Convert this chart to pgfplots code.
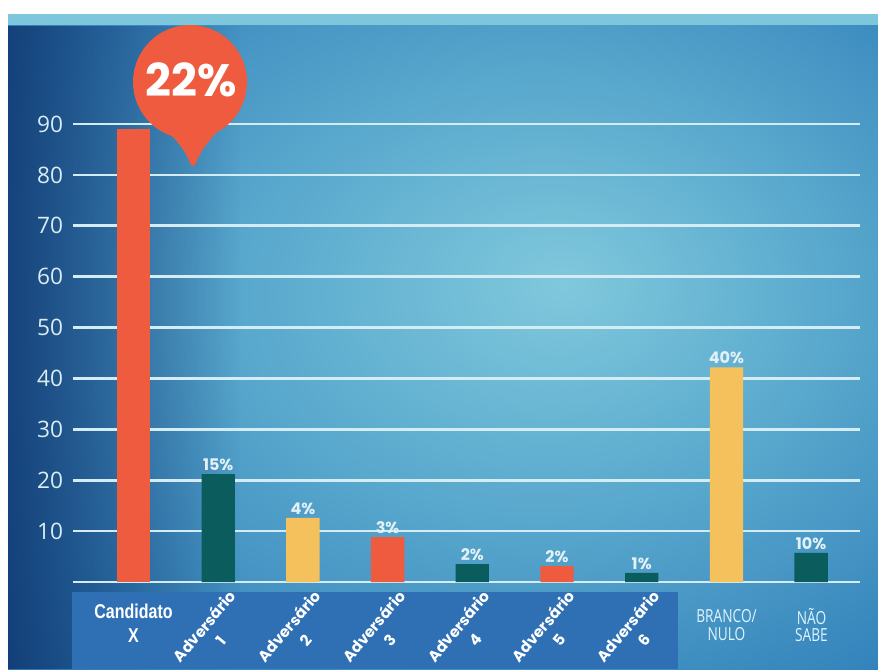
\documentclass[border=0pt]{standalone}
\usepackage{pgfplots}
\pgfplotsset{compat=1.18}
\usetikzlibrary{fadings}
\usepackage{fontspec}
\setmainfont{Open Sans}
\newfontfamily\popb{Poppins}
\newfontfamily\narrowb{Liberation Sans}[FakeStretch=0.8]
\newfontfamily\thinf{Open Sans}[FakeStretch=0.76]
\definecolor{cred}{HTML}{EF5B3E}
\definecolor{cteal}{HTML}{0B5C5C}
\definecolor{cyel}{HTML}{F5C15C}
\definecolor{gridc}{HTML}{D4ECF4}
\definecolor{band}{HTML}{2F70B5}
\definecolor{labc}{HTML}{E3F1F6}
\definecolor{tickc}{HTML}{D9ECF3}
\definecolor{bg0}{HTML}{80C8DC}
\definecolor{bg1}{HTML}{5FAED0}
\definecolor{bg2}{HTML}{3584BC}
\definecolor{bg3}{HTML}{1F5499}
\definecolor{bg4}{HTML}{143F7C}
\definecolor{navy}{HTML}{0F366F}
\definecolor{strip}{HTML}{7EC6DC}
\pgfdeclareradialshading{bgshade}{\pgfpoint{7bp}{5bp}}{color(0bp)=(bg0); color(14bp)=(bg1); color(34bp)=(bg2); color(52bp)=(bg3); color(80bp)=(bg4)}
\tikzfading[name=fadeR, left color=transparent!0, right color=transparent!100]
\begin{document}
\begin{tikzpicture}[x=0.75pt,y=0.75pt]
\useasboundingbox (0,0) rectangle (878,669);
\clip (0,0) rectangle (878,669);
\fill[white] (0,0) rectangle (878,669);
\fill[strip] (8,643) rectangle (878,655);
\shade[shading=bgshade] (8,0) rectangle (878,643);
\fill[navy, path fading=fadeR, fill opacity=0.85] (8,0) rectangle (240,643);
\fill[band] (72,0) rectangle (678,77);
\begin{axis}[at={(54.75pt,65.25pt)}, anchor=south west,
  scale only axis, width=590.25pt, height=343.5pt,
  xmin=-0.714, xmax=8.577, ymin=0, ymax=90,
  axis line style={draw=none}, major tick length=0pt,
  xtick=\empty, ytick={0,10,...,90},
  yticklabels={,10,20,30,40,50,60,70,80,90},
  ymajorgrids, grid style={gridc, line width=2pt},
  yticklabel style={text=tickc, font=\fontsize{17}{17}\selectfont, anchor=east, xshift=-4pt},
  /pgf/number format/assume math mode=true,
  ybar=0pt, bar width=25pt, clip=false,
  every node near coord/.append style={font=\popb\fontsize{12}{12}\selectfont\bfseries, text=labc, anchor=south, inner sep=2.5pt},
]
\addplot[fill=cred, draw=none, bar shift=0pt] coordinates {(0,89.0)};
\addplot[fill=cred, draw=none, bar shift=0pt, nodes near coords, point meta=explicit symbolic] coordinates {(3,8.8)[3\%] (5,3.1)[2\%]};
\addplot[fill=cteal, draw=none, bar shift=0pt, nodes near coords, point meta=explicit symbolic] coordinates {(1,21.2)[15\%] (4,3.5)[2\%] (6,1.8)[1\%] (8,5.7)[10\%]};
\addplot[fill=cyel, draw=none, bar shift=0pt, nodes near coords, point meta=explicit symbolic] coordinates {(2,12.6)[4\%] (7,42.2)[40\%]};
\end{axis}
% balloon
\fill[cred] (190,587) circle[radius=57];
\fill[cred] (160,545) .. controls (176,530) and (186,518) .. (190,506) .. controls (192,502) and (194,502) .. (196,506) .. controls (200,518) and (210,530) .. (224,545) -- cycle;
\node[text=white, font=\popb\fontsize{34}{34}\selectfont\bfseries] at (191,589) {22\%};
% x labels
\node[align=center, text=white, font=\narrowb\fontsize{15}{18}\selectfont\bfseries] at (133.5,46) {Candidato\\X};
\foreach \i in {1,...,6}{
  \node[align=center, text=white, rotate=50, font=\popb\fontsize{11.5}{16}\selectfont\bfseries] at ({133.5+84.7*\i-6},36) {Adversário\\\i};
}
\node[align=center, text=white!88!cyan, font=\thinf\fontsize{13.5}{13}\selectfont] at (726.5,44) {BRANCO/\\NULO};
\node[align=center, text=white!88!cyan, font=\thinf\fontsize{13.5}{13}\selectfont] at (811.5,44) {NÃO\\SABE};
\end{tikzpicture}
\end{document}
